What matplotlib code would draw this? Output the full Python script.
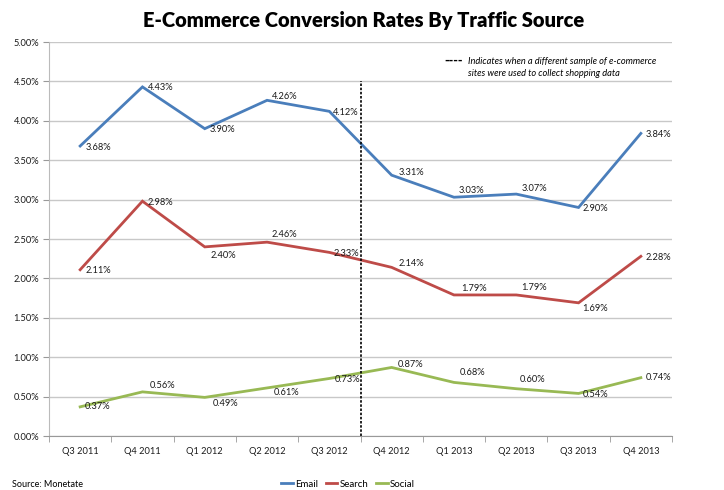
import matplotlib
matplotlib.use('Agg')
import matplotlib.pyplot as plt
import numpy as np

quarters = ['Q3 2011', 'Q4 2011', 'Q1 2012', 'Q2 2012', 'Q3 2012',
            'Q4 2012', 'Q1 2013', 'Q2 2013', 'Q3 2013', 'Q4 2013']
email = [3.68, 4.43, 3.90, 4.26, 4.12, 3.31, 3.03, 3.07, 2.90, 3.84]
search = [2.11, 2.98, 2.40, 2.46, 2.33, 2.14, 1.79, 1.79, 1.69, 2.28]
social = [0.37, 0.56, 0.49, 0.61, 0.73, 0.87, 0.68, 0.60, 0.54, 0.74]

# label offsets in pixels (dx, dy up)
email_off = [(5, -1), (5, -1), (5, -1), (5, 4), (4, -1), (7, 3), (5, 7), (5, 6), (4, -1), (5, -1)]
search_off = [(5, -1), (5, -1), (6, -9), (5, 8), (4, -1), (7, 4), (7, 6), (5, 7), (4, -6), (5, -1)]
social_off = [(5, 0), (7, 6), (8, -6), (7, -5), (5, -1), (6, 3), (6, 10), (3, 9), (4, -1), (5, 0)]

series = [('Email', email, '#4a7ebb', email_off),
          ('Search', search, '#be4b48', search_off),
          ('Social', social, '#98b954', social_off)]

fig = plt.figure(figsize=(7.24, 4.9), dpi=100)
ax = fig.add_axes([49/724, 1-436/490, (672-49)/724, (436-42)/490])

x = np.arange(len(quarters))
lbl_font = 'Lato'
for name, vals, col, offs in series:
    ax.plot(x, vals, color=col, lw=2.0, label=name, solid_joinstyle='miter')
    for xi, v, (dx, dy) in zip(x, vals, offs):
        ax.annotate('%.2f%%' % v, (xi, v), xytext=(dx*0.72, dy*0.72),
                    textcoords='offset points', ha='left', va='center',
                    fontsize=6.7, family=lbl_font, color='#1a1a1a')

ax.set_xlim(-0.5, len(quarters) - 0.5)
ax.set_ylim(0, 5)
ax.set_yticks(np.arange(0, 5.01, 0.5))
ax.set_yticklabels(['%.2f%%' % t for t in np.arange(0, 5.01, 0.5)],
                   fontsize=6.7, family=lbl_font, color='#1a1a1a')
ax.set_xticks(x)
ax.set_xticklabels(quarters, fontsize=6.7, family=lbl_font, color='#1a1a1a')
ax.set_xticks(np.arange(-0.5, len(quarters), 1), minor=True)
ax.tick_params(axis='x', which='major', length=0, pad=8)
ax.tick_params(axis='x', which='minor', length=4, color='#999999')
ax.tick_params(axis='y', length=4, color='#999999', pad=3)
ax.grid(axis='y', color='#c8c8c8', lw=1)
ax.set_axisbelow(True)
for s in ['top', 'right']:
    ax.spines[s].set_visible(False)
ax.spines['left'].set_color('#bbbbbb')
ax.spines['bottom'].set_color('#999999')

# sample change marker
ax.axvline(4.5, ymax=4.5/5, color='black', lw=1.2, ls=(0, (1.5, 1)))
fig.text(444/724, 1-61/490, '----', fontsize=8, fontweight='bold', va='center', ha='left')
fig.text(468/724, 1-61/490, 'Indicates when a different sample of e-commerce',
         fontsize=6.7, style='italic', family=lbl_font, va='center', ha='left')
fig.text(468/724, 1-73/490, 'sites were used to collect shopping data',
         fontsize=6.7, style='italic', family=lbl_font, va='center', ha='left')

fig.text(364/724, 1-20/490, 'E-Commerce Conversion Rates By Traffic Source',
         fontsize=14.5, fontweight='heavy', family='Lato', ha='center', va='center')

fig.legend(loc='center', bbox_to_anchor=(348/724, 1-484/490), ncol=3, frameon=False,
           handlelength=1.2, handletextpad=0.2, columnspacing=0.8,
           prop={'family': lbl_font, 'size': 7})
fig.text(12/724, 1/490, 'Source: Monetate', fontsize=6.5, family=lbl_font, va='bottom')

fig.savefig('out.png', dpi=100)
